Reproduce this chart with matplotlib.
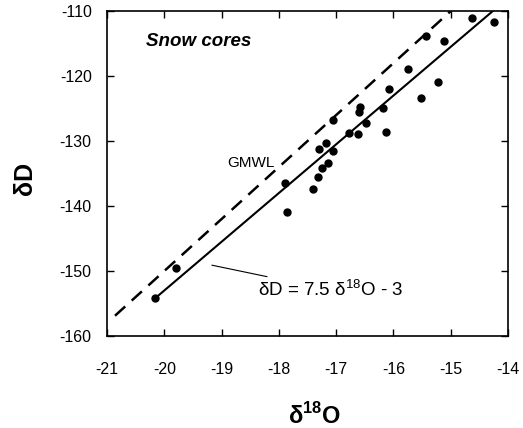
import matplotlib.pyplot as plt
import numpy as np

plt.rcParams['font.family'] = ['Liberation Sans', 'DejaVu Sans']
plt.rcParams['mathtext.fontset'] = 'custom'
plt.rcParams['mathtext.rm'] = 'Liberation Sans'
plt.rcParams['mathtext.bf'] = 'Liberation Sans:bold'
plt.rcParams['axes.unicode_minus'] = False

# snow core samples
d18o = [-14.62, -14.25, -15.43, -15.12, -15.75, -15.23, -16.07, -15.52, -16.58,
        -16.19, -16.60, -17.05, -16.47, -16.78, -16.62, -16.13, -17.18, -17.30,
        -17.05, -17.15, -17.25, -17.31, -17.40, -17.89, -17.85, -19.80, -20.17]
dD = [-111.0, -111.6, -113.8, -114.6, -118.9, -120.9, -122.0, -123.3, -124.8,
      -124.9, -125.6, -126.7, -127.2, -128.7, -128.9, -128.6, -130.3, -131.2,
      -131.6, -133.3, -134.2, -135.6, -137.4, -136.5, -140.9, -149.6, -154.1]

# regression line dD = 7.5 d18O - 3 and GMWL dD = 8 d18O + 10
fit_slope, fit_icpt = 7.5, -3
fit_range = [-20.17, -14.27]
gmwl_slope, gmwl_icpt = 8, 10
gmwl_range = [-20.86, -15.0]

xticks = [-21, -20, -19, -18, -17, -16, -15, -14]
yticks = [-160, -150, -140, -130, -120, -110]

fig = plt.figure(figsize=(5.23, 4.28), dpi=100)
ax = fig.add_axes([0.2046, 0.215, 0.7667, 0.759])

x = np.array(fit_range)
ax.plot(x, fit_slope * x + fit_icpt, color='black', lw=1.5)
x = np.array(gmwl_range)
ax.plot(x, gmwl_slope * x + gmwl_icpt, color='black', lw=1.8, dashes=(5.5, 3.5))
ax.plot(d18o, dD, 'o', color='black', ms=5)

ax.set_xlim(-21, -14)
ax.set_ylim(-160, -110)
ax.set_xticks(xticks)
ax.set_yticks(yticks)
ax.tick_params(direction='in', length=5, width=1, top=True, right=True,
               labelsize=11.5)
ax.tick_params(axis='x', pad=19)
ax.tick_params(axis='y', pad=11)
for s in ax.spines.values():
    s.set_linewidth(1.2)

ax.text(-20.32, -114.7, 'Snow cores', fontsize=13.5, fontweight='bold',
        fontstyle='italic', va='center')
ax.text(-18.48, -133.4, 'GMWL', fontsize=11, ha='center', va='center')
ax.annotate(r'δD = 7.5 δ$^{18}$O - 3', xy=(-19.17, -149.1), xytext=(-18.37, -152.9),
            fontsize=13.5, va='center', ha='left',
            arrowprops=dict(arrowstyle='-', color='black', lw=0.8,
                            shrinkA=0, shrinkB=0))

fig.text(315 / 523, 1 - 424 / 428, r'δ$^{\mathbf{18}}$O', fontsize=17,
         fontweight='bold', ha='center', va='baseline')
fig.text(25 / 523, 1 - 178 / 428, 'δD', fontsize=18, fontweight='bold',
         rotation=90, ha='center', va='center')

fig.savefig('out.png', dpi=100)
